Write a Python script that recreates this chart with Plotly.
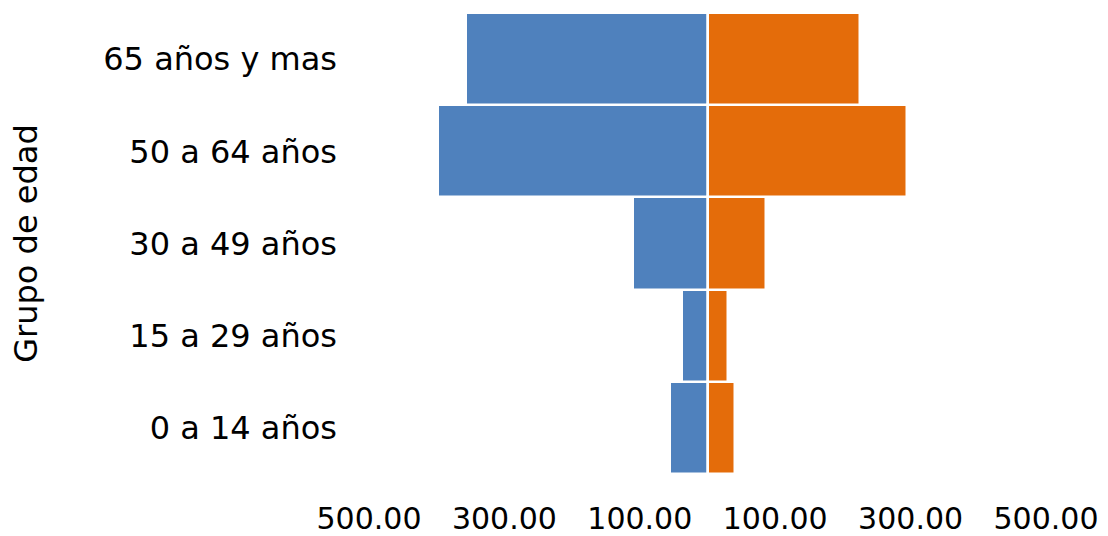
import plotly.graph_objects as go

grupos = ["0 a 14 años", "15 a 29 años", "30 a 49 años", "50 a 64 años", "65 años y mas"]
hombres = [55, 37, 110, 398, 356]
mujeres = [40, 30, 87, 295, 225]
tick_vals = [-500, -300, -100, 100, 300, 500]
tick_text = ["500.00", "300.00", "100.00", "100.00", "300.00", "500.00"]

FONT = "DejaVu Sans"

fig = go.Figure()
fig.add_trace(go.Bar(
    y=grupos, x=[-v for v in hombres], orientation="h", name="Hombres",
    marker=dict(color="#4F81BD", line=dict(color="white", width=2.5)),
))
fig.add_trace(go.Bar(
    y=grupos, x=mujeres, orientation="h", name="Mujeres",
    marker=dict(color="#E46C0A", line=dict(color="white", width=2.5)),
))

fig.update_layout(
    width=1108, height=536,
    margin=dict(l=369, r=62, t=13, b=62),
    barmode="relative", bargap=0,
    showlegend=False,
    plot_bgcolor="white", paper_bgcolor="white",
    font=dict(family=FONT, size=32, color="black"),
    xaxis=dict(
        range=[-500, 500], tickvals=tick_vals, ticktext=tick_text,
        showgrid=False, zeroline=True, zerolinecolor="#D4D4D4", zerolinewidth=1.5,
        layer="above traces", showline=False, ticks="",
        ticklabelstandoff=24, automargin=False,
        tickfont=dict(family=FONT, size=30, color="black"),
    ),
    yaxis=dict(
        title=dict(text="Grupo de edad", font=dict(family=FONT, size=32, color="black"), standoff=56),
        showgrid=False, zeroline=False, showline=False, ticks="",
        ticklabelstandoff=31, automargin=False,
        tickfont=dict(family=FONT, size=32, color="black"),
        range=[-0.5, 4.5],
    ),
)

fig.write_html("out.html")
